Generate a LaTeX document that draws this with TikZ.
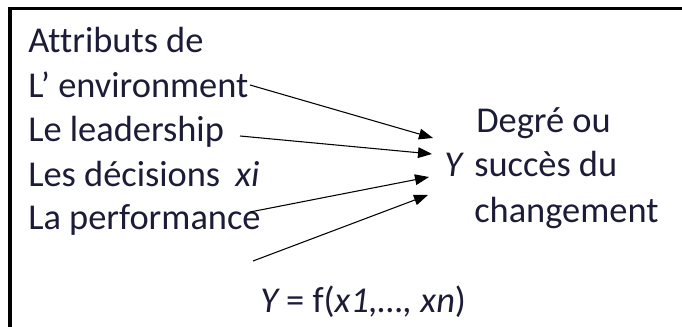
\documentclass[tikz,border=0pt]{standalone}
\usepackage{fontspec}
\setmainfont{Carlito}[Ligatures=NoCommon]
\usetikzlibrary{arrows.meta}
\definecolor{txt}{HTML}{1C1C38}
\begin{document}
\begin{tikzpicture}[x=0.75pt,y=-0.75pt,
  lbl/.style={anchor=base west,inner sep=0pt,text=txt,font=\fontsize{27.3}{32}\selectfont},
  arr/.style={line width=0.8pt,-{Triangle[length=10.5pt,width=8pt]}},
  frame/.style={line width=2.3pt,black}]
\useasboundingbox (0,0) rectangle (682,327);
\draw[frame] (10,340) -- (10,8.5) -- (700,8.5);
% left texts
\node[lbl] (attr) at (28,53) {Attributs de};
\node[lbl] (env) at (28,98) {L’ environment};
\node[lbl] (lead) at (28,142) {Le leadership};
\node[lbl] (dec) at (28,187) {Les décisions};
\node[lbl] (xi) at (235,187) {\itshape xi};
\node[lbl] (perf) at (28,230) {La performance};
% right texts
\node[lbl] (degre) at (476,133) {Degré ou};
\node[lbl] (Ylab) at (444,177) {\itshape Y};
\node[lbl] (succ) at (474,177) {succès du};
\node[lbl] (chg) at (474,223) {changement};
\node[lbl] (formula) at (260,313) {\itshape Y\upshape{} = f(\itshape x1,…, xn\upshape)};
% arrow points
\coordinate (s1) at (250,85);
\coordinate (s2) at (240,136);
\coordinate (s3) at (250,212);
\coordinate (s4) at (253,261);
\coordinate (t1) at (433,138);
\coordinate (t2) at (432,154);
\coordinate (t3) at (429,177);
\coordinate (t4) at (428,195);
\draw[arr] (s1) -- (t1);
\draw[arr] (s2) -- (t2);
\draw[arr] (s3) -- (t3);
\draw[arr] (s4) -- (t4);
\end{tikzpicture}
\end{document}
